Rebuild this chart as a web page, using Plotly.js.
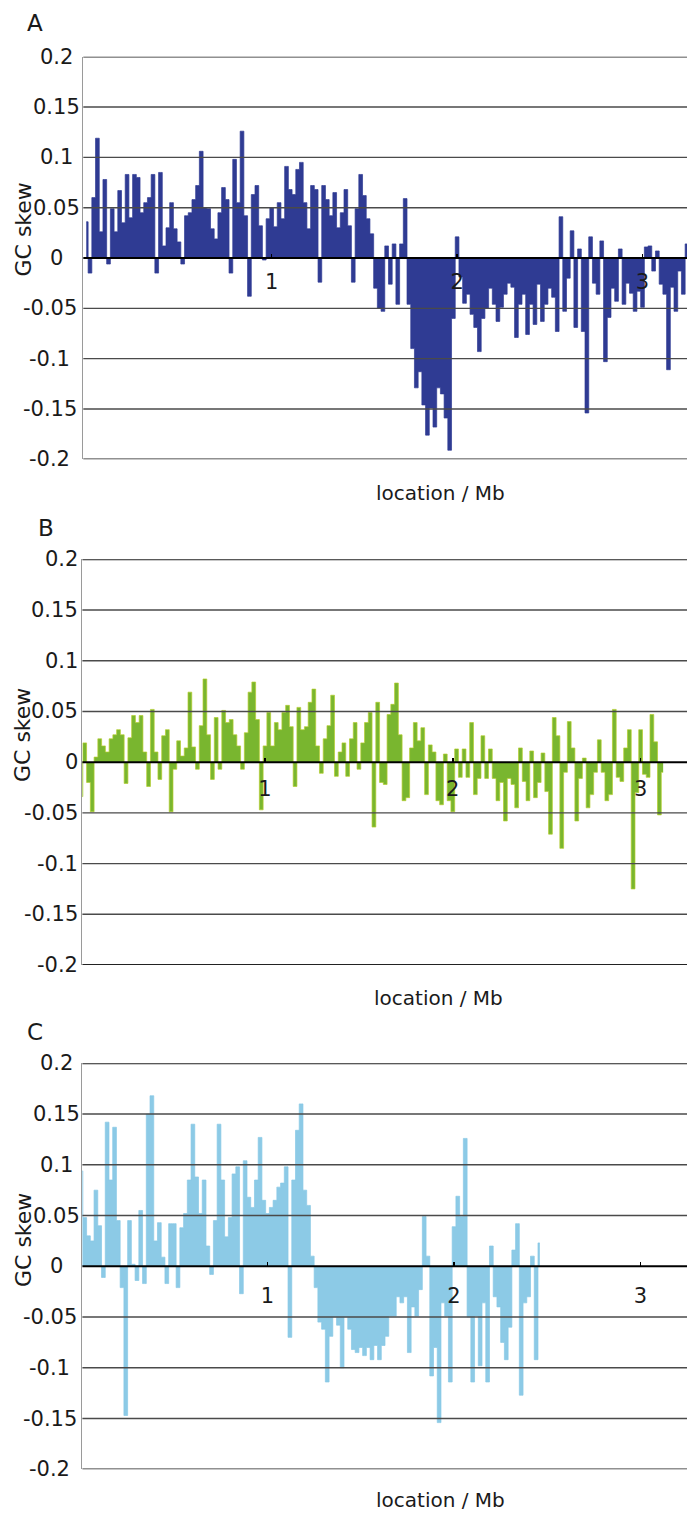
<!DOCTYPE html>
<html><head><meta charset="utf-8">
<script src="https://cdn.plot.ly/plotly-3.0.1.min.js"></script>
<style>html,body{margin:0;padding:0;background:#fff;} #chart{width:687px;height:1513px;}</style>
</head><body><div id="chart"></div>
<script>
// ---- data ----
const windowStepMb = 0.02;           // sliding-window spacing (Mb)
const firstWindowA = 0, firstWindowB = 1, firstWindowC = 0;

const skewA = [0.036,-0.015,0.06,0.119,0.026,0.078,-0.006,0.049,0.026,0.067,
0.035,0.083,0.04,0.083,0.08,0.045,0.055,0.06,0.083,-0.015,
0.085,0.012,0.03,0.055,0.029,0.016,-0.006,0.042,0.045,0.058,
0.072,0.106,0.05,0.049,0.029,0.019,0.045,0.07,0.058,-0.015,
0.098,0.055,0.126,0.042,-0.038,0.063,0.072,0.032,-0.002,0.039,
0.05,0.031,0.055,0.039,0.091,0.068,0.063,0.088,0.095,0.055,
0.029,0.072,0.068,-0.024,0.072,0.058,0.042,0.065,0.03,0.045,
0.068,0.032,-0.024,0.049,0.083,0.062,0.039,0.024,-0.03,-0.05,
-0.053,0.012,-0.026,0.014,-0.046,0.014,0.059,-0.046,-0.09,-0.129,
-0.113,-0.146,-0.176,-0.149,-0.168,-0.129,-0.135,-0.159,-0.191,-0.06,
0.021,-0.019,-0.045,-0.036,-0.056,-0.069,-0.093,-0.06,-0.05,-0.03,
-0.046,-0.063,-0.049,-0.036,-0.025,-0.029,-0.079,-0.046,-0.036,-0.076,
-0.046,-0.066,-0.026,-0.063,-0.046,-0.03,-0.039,-0.073,0.041,-0.053,
-0.02,0.027,-0.069,0.009,-0.073,-0.154,0.021,-0.025,-0.036,0.017,
-0.103,-0.059,-0.03,-0.043,0.009,-0.046,-0.025,-0.035,-0.053,-0.033,
-0.049,0.011,0.012,-0.013,0.007,-0.026,-0.036,-0.111,-0.029,-0.053,
-0.013,-0.036,0.014];

const skewB = [-0.034,0.019,-0.02,-0.049,0.005,0.023,0.016,0.01,0.023,
0.027,0.032,0.027,-0.021,0.024,0.046,0.039,0.046,0.01,-0.024,
0.052,0.01,-0.017,0.026,0.032,-0.049,-0.007,0.021,0.006,0.014,
0.069,0.015,-0.007,0.036,0.082,0.027,-0.017,0.044,-0.007,0.051,
0.039,0.042,0.027,0.016,-0.007,0.029,0.069,0.079,0.042,-0.047,
0.016,0.049,0.016,0.039,0.032,0.049,0.056,0.035,-0.024,0.054,
0.032,0.035,0.059,0.072,0.016,-0.011,0.023,0.036,0.066,-0.014,
0.01,0.019,-0.014,0.023,0.039,-0.007,0.019,0.039,0.049,-0.064,
0.059,-0.02,-0.022,0.047,0.057,0.078,0.027,-0.038,-0.035,0.014,
0.039,0.021,0.034,-0.032,0.017,0.01,-0.038,-0.042,0.008,-0.038,
-0.049,0.013,-0.015,0.013,-0.015,0.039,-0.032,-0.016,0.026,-0.016,
0.013,-0.016,-0.038,-0.02,-0.058,-0.016,-0.022,-0.045,0.014,-0.019,
-0.038,0.011,-0.035,-0.02,0.009,-0.029,-0.071,0.044,0.026,-0.085,
-0.01,0.04,0.014,-0.058,-0.016,0.004,-0.045,-0.032,-0.01,0.022,
-0.01,-0.038,-0.032,0.052,-0.015,-0.019,0.014,0.032,-0.125,-0.03,
0.032,-0.012,-0.015,0.047,0.02,-0.052,-0.01];

const skewC = [0.094,0.048,0.03,0.025,0.075,0.04,-0.011,0.142,0.085,0.137,
0.045,-0.021,-0.147,0.045,0.002,-0.014,0.055,-0.017,0.15,0.168,
0.025,0.043,0.009,-0.017,0.042,0.042,-0.021,0.038,0.052,0.085,
0.14,0.088,0.052,0.085,0.02,-0.008,0.045,0.14,0.085,0.029,
0.048,0.091,0.098,-0.027,0.104,0.068,0.058,0.085,0.127,0.065,
0.052,0.058,0.065,0.078,0.082,0.098,-0.07,0.085,0.134,0.16,
0.075,0.06,0.01,-0.021,-0.055,-0.062,-0.114,-0.069,-0.05,-0.058,
-0.1,-0.05,-0.062,-0.082,-0.085,-0.08,-0.088,-0.08,-0.092,-0.078,
-0.092,-0.078,-0.069,-0.049,-0.049,-0.03,-0.036,-0.03,-0.085,-0.04,
-0.049,-0.023,0.049,0.01,-0.108,-0.08,-0.154,-0.036,-0.049,-0.114,
0.039,0.069,0.049,0.126,-0.05,-0.114,-0.049,-0.098,-0.036,-0.114,
0.02,-0.03,-0.04,-0.075,-0.092,-0.06,0.016,0.042,-0.127,-0.036,
-0.03,0.01,-0.092,0.023];

const yTickVals = [0.2,0.15,0.1,0.05,0,-0.05,-0.1,-0.15,-0.2];
const yTickText = ["0.2","0.15","0.1","0.05","0","-0.05","-0.1","-0.15","-0.2"];
const xTickVals = [1,2,3];
const xTickText = ["1","2","3"];
const panelLetters = ["A","B","C"];
const yTitleText = "GC skew";
const xTitleText = "location / Mb";

// ---- layout helpers ----
const W = 687, H = 1513;
const fx = px => px / W;
const fy = py => 1 - py / H;
const FONT = '"DejaVu Sans", "Liberation Sans", Arial, sans-serif';
const INK = '#1a1a1a';

const panels = [
  {data: skewA, first: firstWindowA, color:'#2f3b93', edge:'#2f3b93',
   left:83.3, top:56.7, bottom:459.3, xr:[-0.016,3.24], standoff:9,
   letter:[35,23], yt:[23,229.5], xt:[440,493], lab:'center'},
  {data: skewB, first: firstWindowB, color:'#79b62f', edge:'#b4cd2c',
   left:82.4, top:559.3, bottom:965, xr:[0.0277,3.247], standoff:12,
   letter:[46,528], yt:[23,735], xt:[438,998], lab:'right'},
  {data: skewC, first: firstWindowC, color:'#8ccae6', edge:'#88c8e5',
   left:82.4, top:1063.3, bottom:1469.3, xr:[0.0075,3.249], standoff:15,
   letter:[35,1032], yt:[23,1240], xt:[440,1500], lab:'center'}
];

const traces = [], annotations = [], shapes = [];
const layout = {
  width: W, height: H, margin:{l:0,r:0,t:0,b:0},
  paper_bgcolor:'#fff', plot_bgcolor:'#fff', showlegend:false,
  font:{family:FONT, color:INK}
};

panels.forEach((p, i) => {
  const n = i === 0 ? '' : String(i + 1);
  const xa = 'x' + n, ya = 'y' + n;
  const xs = p.data.map((_, j) => (p.first + j) * windowStepMb);
  // each window drawn as a filled step (bar-like column) centred on its position
  traces.push({
    type:'scatter', mode:'lines', x: xs, y: p.data, xaxis: xa, yaxis: ya,
    fill:'tozeroy', fillcolor:p.color,
    line:{color:p.edge, width:0.7, shape:'hvh'},
    hoverinfo:'skip'
  });
  const yDom = [fy(p.bottom), fy(p.top)];
  layout['yaxis' + n] = {
    domain: yDom, range:[-0.2,0.2], anchor: xa,
    showgrid:false, zeroline:false, showticklabels:false, ticks:'',
    showline:true, linecolor:'#9a9a9a', linewidth:1, fixedrange:true
  };
  layout['xaxis' + n] = {
    domain:[fx(p.left), 1], range:p.xr, anchor:'free',
    position:(yDom[0] + yDom[1]) / 2,
    showgrid:false, zeroline:false, showline:false,
    tickmode:'array', tickvals:xTickVals, ticktext:xTickText,
    ticks:'inside', ticklen:4, tickwidth:1.5, tickcolor:'#000',
    ticklabelstandoff:p.standoff,
    tickfont:{family:FONT, size:21, color:INK}, fixedrange:true
  };
  // horizontal rules drawn above the marks
  yTickVals.forEach(v => {
    const isZero = v === 0, isEdge = Math.abs(v) === 0.2;
    shapes.push({type:'line', xref: xa + ' domain', yref: ya,
      x0:0, x1:1, y0:v, y1:v, layer:'above',
      line:{color: isZero ? '#000' : (isEdge ? '#222' : '#4a4a4a'),
            width: isZero ? 2 : (isEdge ? 1.8 : 1.4)}});
  });
  // y tick labels
  yTickVals.forEach((v, k) => {
    const a = {xref:'paper', yref: ya, y: v, text: yTickText[k], showarrow:false,
      font:{family:FONT, size:21, color:INK}, yanchor:'middle'};
    if (p.lab === 'center') { a.x = fx(v < 0 ? 50 : 56); a.xanchor = 'center'; }
    else { a.x = fx(80); a.xanchor = 'right'; }
    annotations.push(a);
  });
  annotations.push({xref:'paper', yref:'paper', x:fx(p.letter[0]), y:fy(p.letter[1]),
    text: panelLetters[i], showarrow:false, xanchor:'center', yanchor:'middle',
    font:{family:FONT, size:23, color:INK}});
  annotations.push({xref:'paper', yref:'paper', x:fx(p.yt[0]), y:fy(p.yt[1]),
    text: yTitleText, textangle:-90, showarrow:false, xanchor:'center', yanchor:'middle',
    font:{family:FONT, size:22, color:INK}});
  annotations.push({xref:'paper', yref:'paper', x:fx(p.xt[0]), y:fy(p.xt[1]),
    text: xTitleText, showarrow:false, xanchor:'center', yanchor:'middle',
    font:{family:FONT, size:20, color:INK}});
});

layout.annotations = annotations;
layout.shapes = shapes;
Plotly.newPlot('chart', traces, layout, {staticPlot:true, displayModeBar:false});
</script>
</body></html>
